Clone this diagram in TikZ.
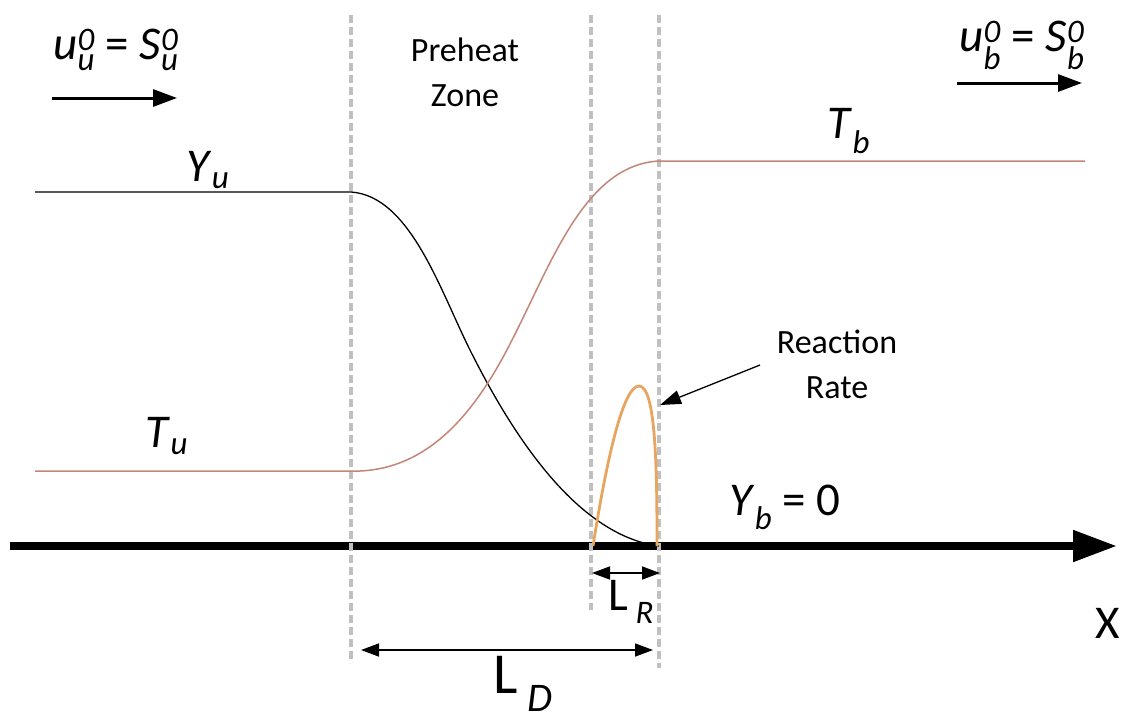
\documentclass[tikz,border=0pt]{standalone}
\usepackage{amsmath}
\usepackage{fontspec}
\setmainfont{Carlito}
\usetikzlibrary{arrows.meta}
\definecolor{tcol}{RGB}{196,132,120}
\definecolor{rcol}{RGB}{232,165,95}
\definecolor{dcol}{RGB}{192,192,192}
\newcommand{\vsub}[3]{\textit{#1}$^{\text{\itshape #2}}_{\text{\itshape #3}}$}
\newcommand{\vs}[2]{\textit{#1}$_{\text{\itshape #2}}$}
\begin{document}
\begin{tikzpicture}[x=1pt,y=-1pt,
  guide/.style={dcol, line width=4pt, dash pattern=on 8pt off 4pt},
  lbl/.style={inner sep=0pt, font=\fontsize{47}{52}\selectfont},
  txt/.style={inner sep=0pt, align=center, font=\fontsize{34}{45}\selectfont},
  flow/.style={line width=3pt, -{Triangle[length=24pt,width=17pt]}},
  dim/.style={line width=1.5pt, {Triangle[length=18pt,width=13pt]}-{Triangle[length=18pt,width=13pt]}},
  curveT/.style={tcol, line width=1.5pt},
  curveY/.style={black, line width=1.3pt},
  curveR/.style={rcol, line width=2.8pt}]
\useasboundingbox (0,0) rectangle (1131,721);

% guide lines
\coordinate (g1t) at (351,15);  \coordinate (g1b) at (351,663);
\coordinate (g2t) at (591,15);  \coordinate (g2b) at (591,610);
\coordinate (g3t) at (659,15);  \coordinate (g3b) at (659,668);

% axis
\coordinate (ax0) at (10,546);
\coordinate (ax1) at (1117,546);
\draw[line width=8pt, -{Triangle[length=44pt,width=30pt]}] (ax0) -- (ax1);

\draw[guide] (g1t) -- (g1b);
\draw[guide] (g2t) -- (g2b);
\draw[guide] (g3t) -- (g3b);

% Y curve
\coordinate (y0) at (35,192);
\coordinate (y1) at (351,192);
\coordinate (y2) at (470,350);
\coordinate (y3) at (659,546);
\draw[curveY] (y0) -- (y1) .. controls (410,196) and (440,290) .. (y2)
  .. controls (510,430) and (575,535) .. (y3);

% T curve
\coordinate (t0) at (35,471);
\coordinate (t1) at (360,471);
\coordinate (t2) at (512,340);
\coordinate (t3) at (659,161);
\coordinate (t4) at (1085,161);
\draw[curveT] (t0) -- (t1) .. controls (425,468) and (472,420) .. (t2)
  .. controls (552,262) and (585,165) .. (t3) -- (t4);

% reaction rate
\coordinate (r0) at (593,546);
\coordinate (rp) at (639,386);
\coordinate (r1) at (657,546);
\draw[curveR] (r0) .. controls (605,470) and (622,386) .. (rp)
  .. controls (656,386) and (657,470) .. (r1);

% flow arrows
\coordinate (fu0) at (52,98);  \coordinate (fu1) at (177,98);
\coordinate (fb0) at (957,83); \coordinate (fb1) at (1082,83);
\draw[flow] (fu0) -- (fu1);
\draw[flow] (fb0) -- (fb1);

% labels
\node[lbl] (uu) at (116,50) {\vsub{u}{0}{u} = \vsub{S}{0}{u}};
\node[lbl] (ub) at (1022,45) {\vsub{u}{0}{b} = \vsub{S}{0}{b}};
\node[txt] (pz) at (465,72) {Preheat\\Zone};
\node[lbl] (Yu) at (208,170) {\vs{Y}{u}};
\node[lbl] (Tb) at (849,131) {\vs{T}{b}};
\node[lbl] (Tu) at (167,436) {\vs{T}{u}};
\node[lbl] (Yb) at (785,507) {\vs{Y}{b} = 0};
\node[txt] (rr) at (837,364) {Reaction\\Rate};
\node[lbl] (X) at (1108,623) {X};

% reaction arrow
\coordinate (ra0) at (760,365);
\coordinate (ra1) at (660,405);
\draw[line width=1.3pt, -{Triangle[length=21pt,width=14pt]}] (ra0) -- (ra1);

% dimensions
\coordinate (lr0) at (592,573); \coordinate (lr1) at (660,573);
\draw[dim] (lr0) -- (lr1);
\node[lbl] (LR) at (631,602) {L\,$_{\text{\itshape R}}$};
\coordinate (ld0) at (361,650); \coordinate (ld1) at (653,650);
\draw[dim] (ld0) -- (ld1);
\node[inner sep=0pt, font=\fontsize{58}{64}\selectfont] (LD) at (523,684) {L\,$_{\text{\itshape D}}$};
\end{tikzpicture}
\end{document}
